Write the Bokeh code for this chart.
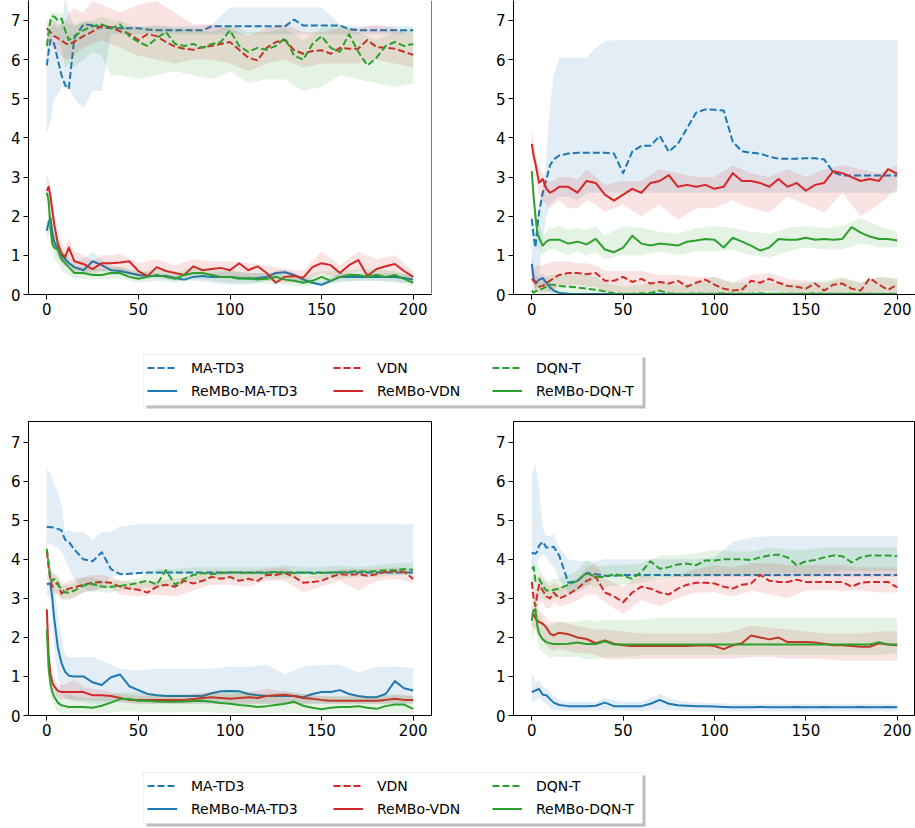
from bokeh.plotting import figure
from bokeh.models import Range1d, Span, Legend, LegendItem, BoxAnnotation
from bokeh.layouts import column, row
from bokeh.embed import file_html
from bokeh.resources import INLINE

# ---------------- data ----------------
X = [0, 1, 2, 3, 4, 6, 8, 10, 12, 15,
     20, 25, 30, 35, 40, 45, 50, 55, 60, 65,
     70, 75, 80, 85, 90, 95, 100, 105, 110, 115,
     120, 125, 130, 135, 140, 145, 150, 155, 160, 165,
     170, 175, 180, 185, 190, 195, 200]
XB = [0, 2, 4, 6, 8, 10, 12, 15, 20, 25, 30, 35, 40,
      50, 60, 70, 80, 90, 100, 110, 120, 130, 140, 150, 160, 170, 180, 190, 200]

SERIES = ["MA-TD3", "ReMBo-MA-TD3", "VDN", "ReMBo-VDN", "DQN-T", "ReMBo-DQN-T"]
X_TICKS = [0, 50, 100, 150, 200]
Y_TICKS = [0, 1, 2, 3, 4, 5, 6, 7]

# ---- top-left ----
TL_MATD3 = [5.85, 6.2, 6.5, 6.5, 6.4, 6.0, 5.6, 5.35, 5.25, 6.55,
            6.9, 6.88, 6.82, 6.8, 6.8, 6.8, 6.8, 6.77, 6.75, 6.75,
            6.75, 6.75, 6.75, 6.75, 6.85, 6.85, 6.85, 6.85, 6.85, 6.85,
            6.85, 6.85, 6.85, 7.02, 6.87, 6.87, 6.87, 6.87, 6.87, 6.78,
            6.75, 6.75, 6.75, 6.75, 6.75, 6.75, 6.75]
TL_MATD3_LO = [4.1, 4.4, 5.0, 5.1, 5.3, 5.3, 5.3, 5.0, 4.75, 5.2, 5.2, 6.65, 6.65,
               6.65, 6.65, 6.65, 6.65, 6.65, 6.65, 6.65, 6.65, 6.65, 6.65, 6.65, 6.65, 6.65, 6.65, 6.65, 6.65]
TL_MATD3_HI = [6.5, 6.8, 6.9, 6.8, 6.9, 7.6, 7.2, 6.85, 6.95, 6.95, 6.9, 6.85, 6.85,
               6.85, 6.85, 6.85, 6.85, 6.9, 7.33, 7.33, 7.33, 7.33, 7.33, 7.33, 6.9, 6.85, 6.85, 6.85, 6.85]
TL_RMATD3 = [1.63, 1.85, 1.95, 1.6, 1.35, 1.15, 1.0, 0.9, 0.8, 0.7,
             0.62, 0.85, 0.75, 0.62, 0.6, 0.55, 0.5, 0.47, 0.47, 0.47,
             0.42, 0.38, 0.45, 0.47, 0.45, 0.45, 0.45, 0.42, 0.4, 0.42,
             0.45, 0.55, 0.57, 0.5, 0.38, 0.3, 0.25, 0.35, 0.45, 0.45,
             0.45, 0.45, 0.45, 0.45, 0.45, 0.42, 0.38]
TL_RMATD3_LO = [1.4, 1.7, 1.15, 0.95, 0.85, 0.75, 0.65, 0.55, 0.5, 0.6, 0.6, 0.5, 0.5,
                0.4, 0.4, 0.35, 0.35, 0.3, 0.25, 0.25, 0.35, 0.45, 0.3, 0.2, 0.35, 0.35, 0.35, 0.3, 0.3]
TL_RMATD3_HI = [1.85, 2.1, 1.5, 1.3, 1.15, 1.05, 0.95, 0.85, 0.9, 1.1, 0.9, 0.75, 0.7,
                0.6, 0.55, 0.5, 0.55, 0.55, 0.6, 0.55, 0.55, 0.65, 0.45, 0.35, 0.55, 0.55, 0.55, 0.55, 0.5]
TL_VDN = [6.8, 6.75, 6.7, 6.65, 6.6, 6.55, 6.5, 6.42, 6.38, 6.46,
          6.6, 6.72, 6.86, 6.83, 6.72, 6.66, 6.5, 6.65, 6.6, 6.45,
          6.33, 6.28, 6.25, 6.32, 6.35, 6.4, 6.45, 6.25, 6.05, 5.98,
          6.3, 6.45, 6.5, 6.24, 6.15, 6.22, 6.24, 6.15, 6.3, 6.28,
          6.28, 6.5, 6.32, 6.3, 6.28, 6.2, 6.12]
TL_VDN_LO = [6.5, 6.4, 6.3, 6.2, 6.1, 6.0, 6.0, 6.1, 6.3, 6.4, 6.5, 6.4, 6.3,
             6.1, 6.0, 5.9, 6.0, 6.0, 5.9, 5.7, 5.9, 6.0, 5.8, 5.9, 5.9, 5.9, 6.0, 5.9, 5.8]
TL_VDN_HI = [7.0, 7.0, 7.0, 6.9, 6.9, 6.9, 7.2, 7.3, 7.2, 7.5, 7.4, 7.3, 7.2,
             7.4, 7.5, 7.2, 6.9, 6.9, 6.8, 6.6, 6.8, 6.9, 6.7, 6.7, 6.8, 6.8, 6.9, 6.8, 6.6]
TL_RVDN = [2.65, 2.75, 2.5, 2.15, 1.8, 1.3, 1.05, 0.95, 1.2, 0.85,
           0.78, 0.65, 0.8, 0.8, 0.82, 0.85, 0.6, 0.47, 0.7, 0.6,
           0.55, 0.5, 0.72, 0.62, 0.65, 0.68, 0.62, 0.8, 0.62, 0.72,
           0.55, 0.3, 0.45, 0.47, 0.43, 0.7, 0.8, 0.75, 0.55, 0.75,
           0.88, 0.47, 0.65, 0.72, 0.78, 0.6, 0.45]
TL_RVDN_LO = [2.4, 2.2, 1.5, 1.0, 0.8, 0.7, 0.85, 0.6, 0.6, 0.5, 0.6, 0.6, 0.6,
              0.45, 0.5, 0.4, 0.5, 0.5, 0.45, 0.45, 0.35, 0.3, 0.3, 0.55, 0.4, 0.6, 0.45, 0.55, 0.35]
TL_RVDN_HI = [3.1, 2.8, 2.1, 1.6, 1.3, 1.2, 1.45, 1.1, 1.0, 0.85, 1.0, 1.0, 1.05,
              0.8, 0.9, 0.75, 0.9, 0.85, 0.85, 0.8, 0.75, 0.65, 0.6, 1.1, 0.75, 1.1, 0.9, 1.0, 0.6]
TL_DQN = [6.35, 6.7, 7.0, 7.1, 7.1, 7.0, 7.05, 6.75, 6.5, 6.6,
          6.75, 6.85, 6.9, 6.8, 6.9, 6.6, 6.45, 6.35, 6.55, 6.7,
          6.4, 6.35, 6.4, 6.3, 6.4, 6.45, 6.75, 6.35, 6.2, 6.3,
          6.25, 6.35, 6.55, 6.1, 6.0, 6.4, 6.6, 6.3, 6.2, 6.65,
          6.2, 5.85, 6.05, 6.35, 6.45, 6.35, 6.4]
TL_DQN_LO = [6.0, 6.5, 6.6, 6.5, 6.3, 5.8, 5.9, 5.8, 6.0, 6.2, 6.1, 5.6, 5.6,
             5.5, 5.6, 5.7, 5.6, 5.5, 5.7, 5.4, 5.5, 5.5, 5.2, 5.3, 5.6, 5.5, 5.4, 5.3, 5.4]
TL_DQN_HI = [6.7, 7.2, 7.2, 7.2, 7.2, 7.0, 6.9, 6.9, 7.0, 7.0, 7.1, 7.0, 7.0,
             6.8, 6.9, 6.8, 6.8, 6.7, 6.9, 6.7, 6.7, 6.8, 6.5, 6.8, 6.9, 6.7, 6.5, 6.7, 6.8]
TL_RDQN = [2.6, 2.4, 1.7, 1.3, 1.2, 1.15, 0.9, 0.8, 0.7, 0.55,
           0.55, 0.5, 0.5, 0.55, 0.55, 0.45, 0.4, 0.45, 0.5, 0.45,
           0.4, 0.5, 0.55, 0.55, 0.5, 0.45, 0.45, 0.4, 0.42, 0.38,
           0.4, 0.45, 0.38, 0.35, 0.3, 0.35, 0.45, 0.35, 0.45, 0.5,
           0.5, 0.45, 0.5, 0.45, 0.5, 0.4, 0.3]
TL_RDQN_LO = [2.3, 1.3, 0.9, 0.8, 0.6, 0.55, 0.5, 0.4, 0.4, 0.38, 0.38, 0.4, 0.4,
              0.3, 0.35, 0.3, 0.4, 0.35, 0.3, 0.3, 0.28, 0.25, 0.2, 0.3, 0.3, 0.35, 0.35, 0.35, 0.2]
TL_RDQN_HI = [2.8, 2.1, 1.5, 1.4, 1.2, 1.05, 0.9, 0.7, 0.7, 0.65, 0.65, 0.7, 0.7,
              0.55, 0.65, 0.55, 0.7, 0.65, 0.6, 0.55, 0.55, 0.5, 0.45, 0.6, 0.6, 0.65, 0.65, 0.6, 0.45]

# ---- top-right ----
TR_MATD3 = [1.93, 1.5, 1.2, 1.7, 2.1, 2.6, 2.95, 3.3, 3.45, 3.55,
            3.6, 3.62, 3.62, 3.62, 3.62, 3.6, 3.1, 3.65, 3.8, 3.8,
            4.05, 3.65, 3.85, 4.25, 4.65, 4.73, 4.72, 4.7, 3.9, 3.66,
            3.62, 3.6, 3.52, 3.47, 3.47, 3.47, 3.48, 3.48, 3.45, 3.12,
            3.04, 3.04, 3.04, 3.04, 3.04, 3.04, 3.04]
TR_MATD3_LO = [0.9, 0.05, 0.5, 1.4, 2.0, 2.3, 2.4, 2.5, 2.5, 2.4, 2.6, 2.6, 2.6,
               2.6, 2.6, 2.6, 2.6, 2.6, 2.6, 2.6, 2.6, 2.6, 2.6, 2.6, 2.6, 2.6, 2.6, 2.6, 2.6]
TR_MATD3_HI = [2.0, 1.6, 2.3, 2.7, 3.5, 4.8, 5.6, 6.05, 6.05, 6.05, 6.05, 6.3, 6.48,
               6.5, 6.5, 6.5, 6.5, 6.5, 6.5, 6.5, 6.5, 6.5, 6.5, 6.5, 6.5, 6.5, 6.5, 6.5, 6.5]
TR_RMATD3 = [0.78, 0.4, 0.3, 0.33, 0.38, 0.42, 0.3, 0.18, 0.1, 0.04,
             0.02, 0.01, 0.01, 0.01, 0.01, 0.01, 0.01, 0.01, 0.01, 0.01,
             0.01, 0.01, 0.01, 0.01, 0.01, 0.01, 0.01, 0.01, 0.01, 0.01,
             0.01, 0.01, 0.01, 0.01, 0.01, 0.01, 0.01, 0.01, 0.01, 0.01,
             0.01, 0.01, 0.01, 0.01, 0.01, 0.01, 0.01]
TR_RMATD3_LO = [0.5, 0.15, 0.2, 0.25, 0.15, 0.05, 0.0, 0.0, 0.0, 0.0, 0.0, 0.0, 0.0,
                0.0, 0.0, 0.0, 0.0, 0.0, 0.0, 0.0, 0.0, 0.0, 0.0, 0.0, 0.0, 0.0, 0.0, 0.0, 0.0]
TR_RMATD3_HI = [1.0, 0.45, 0.5, 0.55, 0.45, 0.3, 0.2, 0.08, 0.04, 0.03, 0.03, 0.03, 0.03,
                0.03, 0.03, 0.03, 0.03, 0.03, 0.03, 0.03, 0.03, 0.03, 0.03, 0.03, 0.03, 0.03, 0.03, 0.03, 0.03]
TR_VDN = [0.4, 0.35, 0.3, 0.25, 0.2, 0.22, 0.3, 0.35, 0.42, 0.5,
          0.55, 0.55, 0.52, 0.55, 0.35, 0.35, 0.45, 0.32, 0.4, 0.28,
          0.32, 0.28, 0.35, 0.2, 0.3, 0.38, 0.25, 0.15, 0.1, 0.12,
          0.35, 0.3, 0.4, 0.3, 0.22, 0.2, 0.15, 0.28, 0.1, 0.25,
          0.28, 0.15, 0.1, 0.42, 0.25, 0.12, 0.25]
TR_VDN_LO = [0.3, 0.1, 0.05, 0.05, 0.05, 0.1, 0.15, 0.2, 0.25, 0.25, 0.2, 0.2, 0.05,
             0.05, 0.05, 0.05, 0.05, 0.05, 0.02, 0.0, 0.05, 0.1, 0.05, 0.02, 0.0, 0.05, 0.0, 0.05, 0.05]
TR_VDN_HI = [0.5, 0.7, 0.75, 0.75, 0.8, 0.8, 0.85, 0.85, 0.85, 0.8, 0.8, 0.75, 0.6,
             0.6, 0.6, 0.5, 0.5, 0.45, 0.45, 0.3, 0.5, 0.55, 0.4, 0.35, 0.3, 0.4, 0.3, 0.45, 0.4]
TR_RVDN = [3.85, 3.55, 3.35, 3.1, 2.85, 2.95, 2.7, 2.6, 2.65, 2.75,
           2.75, 2.6, 2.9, 2.85, 2.55, 2.4, 2.55, 2.7, 2.6, 2.85,
           2.9, 3.05, 2.75, 2.8, 2.75, 2.8, 2.7, 2.75, 3.1, 2.9,
           2.9, 2.85, 2.75, 2.95, 2.75, 2.85, 2.65, 2.8, 2.85, 3.15,
           3.1, 3.0, 2.9, 2.95, 2.9, 3.2, 3.08]
TR_RVDN_LO = [3.6, 3.0, 2.5, 2.4, 2.3, 2.2, 2.3, 2.4, 2.2, 2.2, 2.4, 2.3, 2.1,
              2.3, 2.0, 2.3, 1.9, 2.2, 2.2, 2.4, 2.2, 2.1, 2.5, 2.3, 2.1, 2.6, 2.0, 2.3, 2.7]
TR_RVDN_HI = [4.2, 3.6, 3.2, 3.1, 2.9, 2.9, 2.9, 3.0, 3.0, 2.95, 3.2, 3.0, 2.8,
              2.9, 2.9, 3.2, 3.1, 3.0, 3.0, 3.3, 3.1, 3.0, 3.2, 3.0, 3.2, 3.3, 3.2, 3.1, 3.3]
TR_DQN = [0.1, 0.05, 0.08, 0.1, 0.12, 0.15, 0.2, 0.25, 0.25, 0.22,
          0.2, 0.18, 0.15, 0.12, 0.08, 0.03, 0.02, 0.02, 0.03, 0.04,
          0.1, 0.03, 0.02, 0.02, 0.03, 0.02, 0.02, 0.03, 0.02, 0.02,
          0.02, 0.03, 0.02, 0.02, 0.02, 0.02, 0.02, 0.03, 0.02, 0.02,
          0.02, 0.02, 0.02, 0.02, 0.02, 0.02, 0.02]
TR_DQN_LO = [0.0, 0.0, 0.0, 0.0, 0.0, 0.0, 0.0, 0.0, 0.0, 0.0, 0.0, 0.0, 0.0,
             0.0, 0.0, 0.0, 0.0, 0.0, 0.0, 0.0, 0.0, 0.0, 0.0, 0.0, 0.0, 0.0, 0.0, 0.0, 0.0]
TR_DQN_HI = [0.2, 0.3, 0.35, 0.4, 0.45, 0.5, 0.5, 0.5, 0.55, 0.55, 0.5, 0.45, 0.3,
             0.2, 0.25, 0.3, 0.25, 0.3, 0.45, 0.3, 0.3, 0.3, 0.25, 0.3, 0.35, 0.45, 0.3, 0.45, 0.4]
TR_RDQN = [3.15, 2.5, 2.0, 1.6, 1.45, 1.25, 1.35, 1.4, 1.4, 1.4,
           1.3, 1.35, 1.28, 1.42, 1.15, 1.08, 1.2, 1.5, 1.3, 1.25,
           1.3, 1.28, 1.25, 1.35, 1.38, 1.42, 1.4, 1.2, 1.45, 1.35,
           1.25, 1.12, 1.2, 1.42, 1.4, 1.4, 1.45, 1.4, 1.42, 1.4,
           1.42, 1.72, 1.58, 1.48, 1.42, 1.42, 1.38]
TR_RDQN_LO = [2.9, 1.8, 1.2, 1.0, 1.1, 1.15, 1.15, 1.1, 1.0, 1.1, 1.0, 1.1, 0.9,
              1.0, 1.0, 1.1, 1.0, 1.1, 1.1, 1.15, 1.0, 0.95, 1.1, 1.2, 1.15, 1.15, 1.3, 1.2, 1.2]
TR_RDQN_HI = [3.3, 2.2, 1.8, 1.5, 1.6, 1.7, 1.7, 1.75, 1.65, 1.7, 1.65, 1.75, 1.5,
              1.75, 1.7, 1.6, 1.55, 1.7, 1.75, 1.7, 1.6, 1.55, 1.7, 1.75, 1.7, 1.75, 1.95, 1.75, 1.6]

# ---- bottom-left ----
BL_MATD3 = [4.83, 4.83, 4.82, 4.82, 4.8, 4.78, 4.74, 4.5, 4.45, 4.25,
            4.0, 3.95, 4.18, 3.75, 3.62, 3.63, 3.65, 3.66, 3.66, 3.66,
            3.66, 3.66, 3.66, 3.66, 3.66, 3.66, 3.66, 3.66, 3.66, 3.66,
            3.66, 3.66, 3.66, 3.66, 3.66, 3.66, 3.66, 3.66, 3.66, 3.66,
            3.66, 3.66, 3.66, 3.66, 3.66, 3.66, 3.66]
BL_MATD3_LO = [4.4, 4.4, 4.35, 4.3, 4.2, 4.0, 3.8, 3.5, 3.25, 3.15, 3.3, 3.55, 3.6,
               3.62, 3.62, 3.62, 3.62, 3.62, 3.62, 3.62, 3.62, 3.62, 3.62, 3.62, 3.62, 3.62, 3.62, 3.62, 3.62]
BL_MATD3_HI = [6.3, 6.2, 5.9, 5.75, 5.4, 4.7, 4.75, 4.7, 4.7, 4.5, 4.7, 4.7, 4.85,
               4.9, 4.9, 4.9, 4.9, 4.9, 4.9, 4.9, 4.9, 4.9, 4.9, 4.9, 4.9, 4.9, 4.9, 4.9, 4.9]
BL_RMATD3 = [3.36, 3.38, 3.35, 3.0, 2.5, 1.75, 1.35, 1.12, 1.02, 1.0,
             1.0, 0.85, 0.78, 0.98, 1.05, 0.75, 0.65, 0.55, 0.52, 0.5,
             0.5, 0.5, 0.5, 0.5, 0.57, 0.62, 0.63, 0.62, 0.55, 0.52,
             0.5, 0.5, 0.5, 0.5, 0.47, 0.55, 0.6, 0.6, 0.65, 0.55,
             0.5, 0.47, 0.47, 0.55, 0.88, 0.7, 0.64]
BL_RMATD3_LO = [3.1, 3.0, 1.8, 1.0, 0.6, 0.45, 0.4, 0.35, 0.35, 0.3, 0.3, 0.35, 0.35,
                0.3, 0.3, 0.3, 0.3, 0.3, 0.3, 0.3, 0.3, 0.3, 0.3, 0.3, 0.3, 0.3, 0.3, 0.3, 0.3]
BL_RMATD3_HI = [3.6, 3.7, 3.3, 2.6, 2.0, 1.55, 1.5, 1.5, 1.5, 1.5, 1.4, 1.3, 1.2,
                1.15, 1.2, 1.2, 1.2, 1.2, 1.25, 1.25, 1.3, 1.05, 1.25, 1.3, 1.3, 1.1, 1.25, 1.25, 1.22]
BL_VDN = [4.2, 3.8, 3.45, 3.3, 3.35, 3.4, 3.12, 3.2, 3.25, 3.28,
          3.35, 3.4, 3.42, 3.4, 3.3, 3.25, 3.22, 3.15, 3.3, 3.35,
          3.3, 3.45, 3.38, 3.45, 3.55, 3.5, 3.55, 3.45, 3.5, 3.45,
          3.6, 3.6, 3.65, 3.55, 3.4, 3.42, 3.45, 3.55, 3.62, 3.6,
          3.62, 3.58, 3.62, 3.68, 3.7, 3.68, 3.5]
BL_VDN_LO = [4.0, 3.2, 3.1, 3.1, 2.95, 3.0, 3.0, 3.05, 3.15, 3.2, 3.25, 3.25, 3.1,
             3.05, 3.1, 3.05, 3.2, 3.35, 3.35, 3.3, 3.45, 3.45, 3.15, 3.3, 3.45, 3.2, 3.45, 3.5, 3.4]
BL_VDN_HI = [4.4, 3.7, 3.6, 3.6, 3.3, 3.4, 3.45, 3.5, 3.55, 3.6, 3.6, 3.55, 3.45,
             3.4, 3.45, 3.5, 3.6, 3.7, 3.7, 3.7, 3.75, 3.8, 3.55, 3.6, 3.75, 3.75, 3.75, 3.8, 3.7]
BL_RVDN = [2.72, 1.5, 1.07, 0.85, 0.75, 0.63, 0.6, 0.6, 0.6, 0.6,
           0.6, 0.52, 0.52, 0.5, 0.45, 0.4, 0.4, 0.4, 0.4, 0.4,
           0.4, 0.4, 0.42, 0.45, 0.47, 0.45, 0.43, 0.45, 0.47, 0.45,
           0.5, 0.52, 0.53, 0.5, 0.45, 0.43, 0.4, 0.38, 0.38, 0.38,
           0.38, 0.38, 0.38, 0.4, 0.43, 0.4, 0.4]
BL_RVDN_LO = [2.5, 0.9, 0.6, 0.45, 0.42, 0.42, 0.42, 0.4, 0.4, 0.38, 0.38, 0.36, 0.33,
              0.3, 0.3, 0.3, 0.3, 0.3, 0.3, 0.3, 0.3, 0.3, 0.3, 0.3, 0.3, 0.3, 0.3, 0.3, 0.32]
BL_RVDN_HI = [2.95, 1.3, 0.9, 0.8, 0.8, 0.78, 0.85, 0.9, 0.75, 0.68, 0.65, 0.6, 0.55,
              0.5, 0.5, 0.5, 0.55, 0.6, 0.55, 0.6, 0.68, 0.62, 0.55, 0.5, 0.48, 0.48, 0.48, 0.52, 0.5]
BL_DQN = [4.27, 3.9, 3.5, 3.45, 3.5, 3.35, 3.25, 3.15, 3.15, 3.2,
          3.33, 3.37, 3.3, 3.3, 3.32, 3.35, 3.4, 3.45, 3.35, 3.72,
          3.35, 3.5, 3.6, 3.65, 3.62, 3.65, 3.66, 3.66, 3.65, 3.66,
          3.65, 3.68, 3.66, 3.65, 3.66, 3.64, 3.65, 3.66, 3.67, 3.68,
          3.7, 3.68, 3.7, 3.72, 3.72, 3.75, 3.73]
BL_DQN_LO = [4.1, 3.3, 3.2, 3.1, 3.0, 2.95, 2.95, 3.0, 3.15, 3.2, 3.15, 3.15, 3.2,
             3.25, 3.3, 3.3, 3.45, 3.5, 3.5, 3.5, 3.5, 3.5, 3.55, 3.5, 3.5, 3.55, 3.55, 3.6, 3.6]
BL_DQN_HI = [4.5, 3.7, 3.65, 3.55, 3.45, 3.35, 3.35, 3.4, 3.55, 3.55, 3.45, 3.45, 3.45,
             3.5, 3.75, 3.75, 3.8, 3.8, 3.8, 3.8, 3.8, 3.85, 3.8, 3.8, 3.85, 3.8, 3.85, 3.9, 3.9]
BL_RDQN = [2.2, 1.2, 0.8, 0.6, 0.48, 0.33, 0.26, 0.24, 0.22, 0.22,
           0.22, 0.2, 0.25, 0.33, 0.42, 0.42, 0.38, 0.38, 0.36, 0.35,
           0.35, 0.36, 0.37, 0.38, 0.35, 0.32, 0.3, 0.27, 0.25, 0.22,
           0.24, 0.27, 0.3, 0.35, 0.25, 0.2, 0.16, 0.2, 0.22, 0.22,
           0.24, 0.2, 0.17, 0.24, 0.28, 0.28, 0.17]
BL_RDQN_LO = [1.9, 0.5, 0.25, 0.1, 0.06, 0.05, 0.05, 0.05, 0.05, 0.05, 0.05, 0.08, 0.1,
              0.1, 0.08, 0.08, 0.1, 0.08, 0.06, 0.05, 0.05, 0.08, 0.05, 0.05, 0.05, 0.05, 0.05, 0.05, 0.05]
BL_RDQN_HI = [2.4, 1.1, 0.75, 0.6, 0.55, 0.55, 0.55, 0.5, 0.45, 0.45, 0.45, 0.55, 0.6,
              0.6, 0.55, 0.55, 0.55, 0.6, 0.65, 0.6, 0.55, 0.6, 0.55, 0.5, 0.5, 0.5, 0.5, 0.55, 0.5]

# ---- bottom-right ----
BR_MATD3 = [4.17, 4.15, 4.15, 4.2, 4.35, 4.45, 4.3, 4.3, 4.32, 4.1,
            3.4, 3.45, 3.65, 3.62, 3.58, 3.58, 3.6, 3.6, 3.6, 3.6,
            3.6, 3.6, 3.6, 3.6, 3.6, 3.6, 3.6, 3.6, 3.6, 3.6,
            3.6, 3.6, 3.6, 3.6, 3.6, 3.6, 3.6, 3.6, 3.6, 3.6,
            3.6, 3.6, 3.6, 3.6, 3.6, 3.6, 3.6]
BR_MATD3_LO = [3.9, 3.7, 4.05, 4.15, 4.05, 3.9, 3.8, 3.5, 3.15, 3.15, 3.3, 3.5, 3.55,
               3.55, 3.55, 3.55, 3.55, 3.55, 3.55, 3.55, 3.55, 3.55, 3.55, 3.55, 3.55, 3.55, 3.55, 3.55, 3.55]
BR_MATD3_HI = [6.2, 6.45, 5.8, 4.8, 4.6, 4.6, 4.65, 4.3, 4.0, 3.95, 3.95, 3.95, 4.0,
               4.0, 4.0, 4.0, 4.0, 4.0, 4.05, 4.45, 4.55, 4.6, 4.6, 4.6, 4.6, 4.6, 4.6, 4.6, 4.6]
BR_RMATD3 = [0.6, 0.62, 0.64, 0.66, 0.68, 0.53, 0.52, 0.42, 0.33, 0.27,
             0.24, 0.24, 0.24, 0.25, 0.33, 0.24, 0.24, 0.24, 0.24, 0.3,
             0.4, 0.3, 0.26, 0.25, 0.24, 0.24, 0.23, 0.22, 0.21, 0.21,
             0.21, 0.22, 0.21, 0.21, 0.21, 0.22, 0.21, 0.21, 0.22, 0.21,
             0.21, 0.21, 0.22, 0.21, 0.21, 0.22, 0.21]
BR_RMATD3_LO = [0.3, 0.4, 0.45, 0.35, 0.3, 0.2, 0.15, 0.12, 0.12, 0.12, 0.12, 0.12, 0.15,
                0.12, 0.12, 0.15, 0.12, 0.1, 0.1, 0.1, 0.1, 0.1, 0.1, 0.1, 0.1, 0.1, 0.1, 0.1, 0.1]
BR_RMATD3_HI = [1.1, 0.85, 0.9, 0.75, 0.7, 0.6, 0.5, 0.4, 0.35, 0.35, 0.35, 0.35, 0.45,
                0.35, 0.35, 0.55, 0.38, 0.33, 0.32, 0.3, 0.3, 0.3, 0.3, 0.3, 0.3, 0.3, 0.3, 0.3, 0.3]
BR_VDN = [3.42, 3.0, 2.8, 3.1, 3.35, 3.2, 3.05, 3.0, 3.15, 3.0,
          3.1, 3.25, 3.45, 3.55, 3.15, 3.05, 2.9, 3.15, 3.3, 3.25,
          3.15, 3.1, 3.25, 3.35, 3.4, 3.4, 3.38, 3.3, 3.25, 3.35,
          3.38, 3.6, 3.45, 3.42, 3.42, 3.48, 3.42, 3.42, 3.42, 3.42,
          3.42, 3.3, 3.4, 3.42, 3.42, 3.42, 3.28]
BR_VDN_LO = [3.2, 2.5, 2.9, 2.9, 2.75, 2.75, 2.9, 2.8, 2.85, 2.95, 3.1, 3.1, 2.9,
             2.6, 2.95, 2.8, 3.0, 3.15, 3.15, 3.05, 3.2, 3.1, 3.0, 3.2, 3.2, 3.2, 3.2, 3.15, 3.15]
BR_VDN_HI = [3.6, 3.1, 3.6, 3.5, 3.4, 3.3, 3.4, 3.3, 3.35, 3.5, 3.8, 3.9, 3.5,
             3.3, 3.6, 3.5, 3.6, 3.75, 3.85, 3.8, 3.9, 3.9, 3.85, 3.85, 3.85, 3.85, 3.8, 3.8, 3.8]
BR_RVDN = [2.6, 2.58, 2.5, 2.43, 2.4, 2.35, 2.25, 2.1, 2.05, 2.12,
           2.08, 2.0, 1.96, 1.85, 1.92, 1.84, 1.8, 1.78, 1.78, 1.78,
           1.78, 1.78, 1.78, 1.78, 1.79, 1.8, 1.78, 1.7, 1.8, 1.85,
           2.05, 2.0, 1.95, 2.0, 1.88, 1.88, 1.88, 1.87, 1.84, 1.8,
           1.8, 1.78, 1.76, 1.76, 1.85, 1.82, 1.8]
BR_RVDN_LO = [2.3, 2.2, 2.0, 1.9, 1.8, 1.7, 1.65, 1.7, 1.65, 1.6, 1.6, 1.55, 1.45,
              1.45, 1.45, 1.45, 1.45, 1.45, 1.45, 1.45, 1.5, 1.5, 1.45, 1.45, 1.45, 1.4, 1.4, 1.4, 1.4]
BR_RVDN_HI = [2.8, 2.75, 2.7, 2.6, 2.5, 2.4, 2.4, 2.4, 2.35, 2.3, 2.25, 2.2, 2.2,
              2.15, 2.1, 2.1, 2.1, 2.1, 2.1, 2.15, 2.3, 2.25, 2.2, 2.15, 2.1, 2.1, 2.1, 2.15, 2.15]
BR_DQN = [3.76, 3.8, 3.45, 3.5, 3.5, 3.33, 3.2, 3.2, 3.22, 3.25,
          3.35, 3.45, 3.65, 3.55, 3.55, 3.62, 3.58, 3.5, 3.68, 3.95,
          3.76, 3.8, 3.87, 3.89, 3.85, 3.97, 3.97, 4.0, 4.0, 4.0,
          3.98, 4.05, 4.1, 4.12, 4.05, 3.85, 3.95, 3.98, 4.05, 4.1,
          4.08, 3.92, 4.05, 4.1, 4.1, 4.1, 4.08]
BR_DQN_LO = [3.4, 3.1, 3.1, 3.0, 2.95, 2.95, 3.0, 3.05, 3.1, 3.2, 3.35, 3.3, 3.3,
             3.35, 3.4, 3.5, 3.55, 3.55, 3.6, 3.6, 3.6, 3.65, 3.65, 3.6, 3.65, 3.7, 3.7, 3.7, 3.7]
BR_DQN_HI = [4.0, 3.8, 3.8, 3.6, 3.45, 3.45, 3.5, 3.5, 3.6, 3.7, 4.0, 3.8, 3.85,
             3.85, 3.9, 4.1, 4.1, 4.15, 4.25, 4.2, 4.2, 4.3, 4.25, 4.25, 4.3, 4.3, 4.3, 4.3, 4.3]
BR_RDQN = [2.43, 2.7, 2.72, 2.3, 2.1, 1.95, 1.88, 1.85, 1.83, 1.83,
           1.84, 1.87, 1.83, 1.83, 1.9, 1.82, 1.82, 1.82, 1.82, 1.82,
           1.82, 1.82, 1.82, 1.82, 1.82, 1.82, 1.82, 1.82, 1.82, 1.82,
           1.82, 1.82, 1.82, 1.82, 1.82, 1.82, 1.82, 1.82, 1.82, 1.82,
           1.82, 1.82, 1.82, 1.82, 1.88, 1.82, 1.82]
BR_RDQN_LO = [1.9, 2.3, 1.7, 1.6, 1.55, 1.5, 1.5, 1.5, 1.5, 1.5, 1.45, 1.45, 1.5,
              1.5, 1.55, 1.55, 1.55, 1.55, 1.55, 1.55, 1.55, 1.55, 1.55, 1.55, 1.55, 1.55, 1.55, 1.55, 1.6]
BR_RDQN_HI = [2.9, 3.0, 2.6, 2.4, 2.3, 2.3, 2.35, 2.4, 2.4, 2.4, 2.45, 2.4, 2.45,
              2.45, 2.45, 2.5, 2.5, 2.5, 2.5, 2.5, 2.5, 2.5, 2.5, 2.5, 2.5, 2.5, 2.5, 2.5, 2.5]

# ---------------- styling ----------------
BLUE, RED, GREEN = "#1f77b4", "#d62728", "#2ca02c"
COLORS = [BLUE, BLUE, RED, RED, GREEN, GREEN]
DASHES = ["7 3", "solid", "7 3", "solid", "7 3", "solid"]
FONT = "DejaVu Sans"

PANELS = [
    dict(lines=[TL_MATD3, TL_RMATD3, TL_VDN, TL_RVDN, TL_DQN, TL_RDQN],
         lo=[TL_MATD3_LO, TL_RMATD3_LO, TL_VDN_LO, TL_RVDN_LO, TL_DQN_LO, TL_RDQN_LO],
         hi=[TL_MATD3_HI, TL_RMATD3_HI, TL_VDN_HI, TL_RVDN_HI, TL_DQN_HI, TL_RDQN_HI]),
    dict(lines=[TR_MATD3, TR_RMATD3, TR_VDN, TR_RVDN, TR_DQN, TR_RDQN],
         lo=[TR_MATD3_LO, TR_RMATD3_LO, TR_VDN_LO, TR_RVDN_LO, TR_DQN_LO, TR_RDQN_LO],
         hi=[TR_MATD3_HI, TR_RMATD3_HI, TR_VDN_HI, TR_RVDN_HI, TR_DQN_HI, TR_RDQN_HI]),
    dict(lines=[BL_MATD3, BL_RMATD3, BL_VDN, BL_RVDN, BL_DQN, BL_RDQN],
         lo=[BL_MATD3_LO, BL_RMATD3_LO, BL_VDN_LO, BL_RVDN_LO, BL_DQN_LO, BL_RDQN_LO],
         hi=[BL_MATD3_HI, BL_RMATD3_HI, BL_VDN_HI, BL_RVDN_HI, BL_DQN_HI, BL_RDQN_HI]),
    dict(lines=[BR_MATD3, BR_RMATD3, BR_VDN, BR_RVDN, BR_DQN, BR_RDQN],
         lo=[BR_MATD3_LO, BR_RMATD3_LO, BR_VDN_LO, BR_RVDN_LO, BR_DQN_LO, BR_RDQN_LO],
         hi=[BR_MATD3_HI, BR_RMATD3_HI, BR_VDN_HI, BR_RVDN_HI, BR_DQN_HI, BR_RDQN_HI]),
]


def make_panel(data, top, left):
    ymax = 7.51 if top else 7.53
    p = figure(width=441 if left else 474, height=324 if top else 329,
               x_range=Range1d(-10, 210), y_range=Range1d(0, ymax),
               output_backend="svg", toolbar_location=None,
               min_border_left=28 if left else 72,
               min_border_right=10 if left else 0,
               min_border_top=0 if top else 5, min_border_bottom=30)
    p.background_fill_color = "white"
    p.border_fill_color = "white"
    p.xgrid.visible = False
    p.ygrid.visible = False
    for i in range(6):
        p.varea(x=XB, y1=data["lo"][i], y2=data["hi"][i],
                fill_color=COLORS[i], fill_alpha=0.13)
        p.line(x=X, y=data["lines"][i], line_color=COLORS[i], line_width=2,
               line_dash=DASHES[i], line_join="round")
    p.xaxis.ticker = X_TICKS
    p.yaxis.ticker = Y_TICKS
    for ax in (p.xaxis[0], p.yaxis[0]):
        ax.major_label_text_font = FONT
        ax.major_label_text_font_size = "15px"
        ax.major_label_text_color = "black"
        ax.major_tick_out = 5
        ax.major_tick_in = 0
        ax.minor_tick_line_color = None
        ax.axis_line_color = "black"
        ax.major_tick_line_color = "black"
        ax.major_label_standoff = 3
    if top:
        p.outline_line_color = None
        p.add_layout(Span(location=210, dimension="height",
                          line_color="black", line_width=1))
    else:
        p.outline_line_color = "black"
        p.outline_line_alpha = 1.0
    return p


def make_legend_fig(h, box_bottom, leg_y):
    lf = figure(width=915, height=h, x_range=Range1d(0, 915), y_range=Range1d(0, h),
                min_border=0, toolbar_location=None, output_backend="svg",
                x_axis_type=None, y_axis_type=None)
    lf.xgrid.visible = False
    lf.ygrid.visible = False
    lf.outline_line_color = None
    lf.background_fill_color = "white"
    lf.border_fill_color = "white"
    rends = [lf.line(x=[-50, -40], y=[-50, -40], line_color=COLORS[i], line_width=2,
                     line_dash=DASHES[i])
             for i in range(6)]
    lf.add_layout(BoxAnnotation(left=146, right=645, bottom=box_bottom - 3, top=box_bottom + 48,
                                fill_color="#888888", fill_alpha=0.55, line_color=None))
    lf.add_layout(BoxAnnotation(left=143, right=642, bottom=box_bottom, top=box_bottom + 51,
                                fill_color="white", fill_alpha=1.0,
                                line_color="#cccccc", line_width=1))
    col_x = [147, 333, 492]
    for c in range(3):
        items = [LegendItem(label=SERIES[2 * c], renderers=[rends[2 * c]]),
                 LegendItem(label=SERIES[2 * c + 1], renderers=[rends[2 * c + 1]])]
        leg = Legend(items=items, location=(col_x[c], leg_y), orientation="vertical",
                     padding=0, margin=0, spacing=6, glyph_width=30, glyph_height=17,
                     label_height=17, label_standoff=14,
                     label_text_font=FONT, label_text_font_size="14px",
                     label_text_color="black",
                     border_line_color=None, background_fill_alpha=0)
        lf.add_layout(leg, "center")
    return lf


tl = make_panel(PANELS[0], True, True)
tr = make_panel(PANELS[1], True, False)
bl = make_panel(PANELS[2], False, True)
br = make_panel(PANELS[3], False, False)
leg1 = make_legend_fig(92, 11, 17)
leg2 = make_legend_fig(83, 5, 11)

layout = column(row(tl, tr), leg1, row(bl, br), leg2)
open("out.html", "w").write(file_html(layout, INLINE))
